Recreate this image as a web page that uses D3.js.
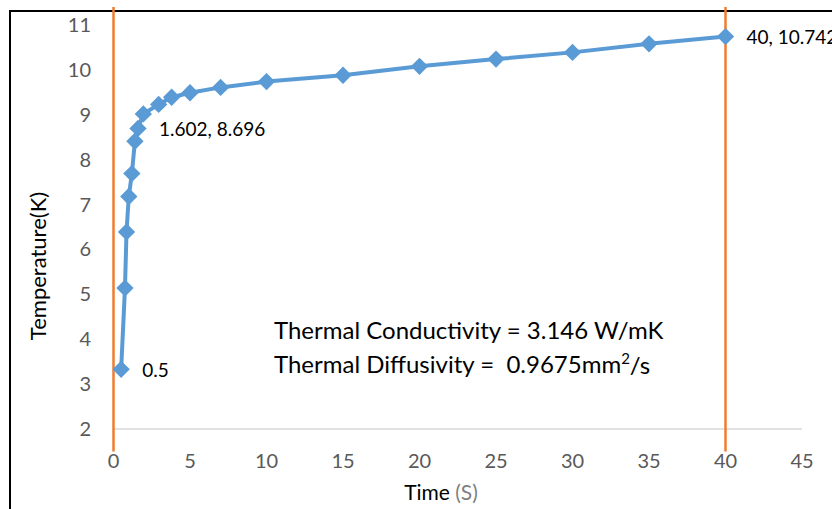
<!DOCTYPE html>
<html>
<head>
<meta charset="utf-8">
<script src="https://cdn.jsdelivr.net/npm/d3@7.9.0/dist/d3.min.js"></script>
<style>
  body { margin: 0; background: #fff; }
  svg { display: block; font-family: Lato, "Open Sans", sans-serif; }
</style>
</head>
<body>
<svg width="832" height="509"></svg>
<script>
// data
const timeS = [0.5, 0.75, 0.85, 1.0, 1.2, 1.4, 1.602, 1.95, 2.95, 3.8, 5, 7, 10, 15, 20, 25, 30, 35, 40];
const tempK = [3.33, 5.14, 6.39, 7.18, 7.69, 8.41, 8.696, 9.02, 9.23, 9.39, 9.49, 9.61, 9.74, 9.88, 10.08, 10.24, 10.39, 10.58, 10.742];
const pointLabels = [
  { idx: 0, text: '0.5' },
  { idx: 6, text: '1.602, 8.696' },
  { idx: 18, text: '40, 10.742' }
];
const xTicks = [0, 5, 10, 15, 20, 25, 30, 35, 40, 45];
const yTicks = [2, 3, 4, 5, 6, 7, 8, 9, 10, 11];
const markerTimes = [0, 40];        // orange vertical lines
const markerSpan = [1.5, 11.4];     // their extent in K
const notes = ['Thermal Conductivity = 3.146 W/mK', 'Thermal Diffusivity =  0.9675mm'];

const svg = d3.select('svg');

// outer frame (cropped off at right and bottom)
svg.append('rect')
  .attr('x', 10).attr('y', 11)
  .attr('width', 900).attr('height', 600)
  .attr('fill', 'none')
  .attr('stroke', '#000')
  .attr('stroke-width', 2);

const x = d3.scaleLinear().domain([0, 45]).range([113.5, 802]);
const y = d3.scaleLinear().domain([2, 11]).range([429, 25]);

// baseline gridline
svg.append('line')
  .attr('x1', x(0)).attr('x2', x(45))
  .attr('y1', y(2)).attr('y2', y(2))
  .attr('stroke', '#d9d9d9')
  .attr('stroke-width', 1.5);

// tick labels
svg.append('g')
  .selectAll('text')
  .data(yTicks)
  .join('text')
  .attr('x', 91)
  .attr('y', d => y(d))
  .attr('dy', '0.35em')
  .attr('text-anchor', 'end')
  .attr('fill', '#595959')
  .attr('font-size', 20)
  .text(d => d);

svg.append('g')
  .selectAll('text')
  .data(xTicks)
  .join('text')
  .attr('x', d => x(d))
  .attr('y', 461)
  .attr('dy', '0.35em')
  .attr('text-anchor', 'middle')
  .attr('fill', '#595959')
  .attr('font-size', 20)
  .text(d => d);

// axis titles
svg.append('text')
  .attr('transform', 'translate(38,266) rotate(-90)')
  .attr('text-anchor', 'middle')
  .attr('dy', '0.35em')
  .attr('font-size', 22)
  .attr('fill', '#000')
  .text('Temperature(K)');

const xt = svg.append('text')
  .attr('x', 441).attr('y', 493)
  .attr('dy', '0.35em')
  .attr('text-anchor', 'middle')
  .attr('font-size', 21)
  .attr('fill', '#000');
xt.append('tspan').text('Time ');
xt.append('tspan').attr('fill', '#7f7f7f').text('(S)');

// orange vertical lines
svg.append('g')
  .selectAll('line')
  .data(markerTimes)
  .join('line')
  .attr('x1', d => x(d)).attr('x2', d => x(d))
  .attr('y1', y(markerSpan[0])).attr('y2', y(markerSpan[1]))
  .attr('stroke', '#ed7d31')
  .attr('stroke-width', 2.5);

// series
const pts = timeS.map((t, i) => [t, tempK[i]]);

svg.append('path')
  .datum(pts)
  .attr('fill', 'none')
  .attr('stroke', '#5b9bd5')
  .attr('stroke-width', 4)
  .attr('stroke-linejoin', 'round')
  .attr('d', d3.line().x(d => x(d[0])).y(d => y(d[1])));

const diamond = d3.symbol().type(d3.symbolSquare).size(150);
svg.append('g')
  .selectAll('path')
  .data(pts)
  .join('path')
  .attr('d', diamond)
  .attr('transform', d => `translate(${x(d[0])},${y(d[1])}) rotate(45)`)
  .attr('fill', '#5b9bd5');

// data labels
svg.append('g')
  .selectAll('text')
  .data(pointLabels)
  .join('text')
  .attr('x', d => x(timeS[d.idx]) + 21)
  .attr('y', d => y(tempK[d.idx]) + 1)
  .attr('dy', '0.35em')
  .attr('font-size', 19)
  .attr('fill', '#000')
  .text(d => d.text);

// annotation
svg.append('text')
  .attr('x', 274).attr('y', 331)
  .attr('dy', '0.35em')
  .attr('font-size', 24)
  .attr('fill', '#000')
  .text(notes[0]);

const n2 = svg.append('text')
  .attr('x', 274).attr('y', 365)
  .attr('dy', '0.35em')
  .attr('font-size', 24)
  .attr('fill', '#000')
  .style('white-space', 'pre');
n2.append('tspan').text(notes[1]);
n2.append('tspan').attr('font-size', 15).attr('dy', '-0.6em').text('2');
n2.append('tspan').attr('dy', '0.4em').text('/s');
</script>
</body>
</html>
